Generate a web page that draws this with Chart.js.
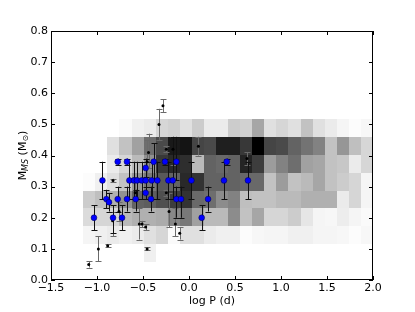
<!DOCTYPE html>
<html>
<head>
<meta charset="utf-8">
<script src="https://cdn.jsdelivr.net/npm/chart.js@4.4.0/dist/chart.umd.min.js"></script>
<style>
  html, body { margin: 0; padding: 0; background: #fff; }
  #wrap { width: 415px; height: 312px; }
</style>
</head>
<body>
<div id="wrap"><canvas id="chart" width="415" height="312"></canvas></div>
<script>
// --- DATA ---
// blue points (with black error bars)
const blueLogP = [-1.033, -0.941, -0.898, -0.87, -0.826, -0.775, -0.775, -0.728, -0.674, -0.674, -0.648, -0.598, -0.579, -0.565, -0.514, -0.471, -0.471, -0.471, -0.413, -0.405, -0.384, -0.344, -0.261, -0.224, -0.177, -0.137, -0.137, -0.087, 0.026, 0.138, 0.207, 0.38, 0.41, 0.641];
const blueMass = [0.20, 0.32, 0.26, 0.25, 0.20, 0.38, 0.26, 0.20, 0.38, 0.26, 0.32, 0.32, 0.26, 0.32, 0.32, 0.36, 0.32, 0.28, 0.26, 0.32, 0.38, 0.32, 0.38, 0.32, 0.32, 0.38, 0.26, 0.26, 0.32, 0.20, 0.26, 0.32, 0.38, 0.32];
const blueLo   = [0.16, 0.26, 0.23, 0.22, 0.15, 0.37, 0.22, 0.16, 0.37, 0.22, 0.26, 0.26, 0.22, 0.26, 0.26, 0.33, 0.26, 0.26, 0.22, 0.26, 0.32, 0.26, 0.37, 0.26, 0.26, 0.32, 0.20, 0.20, 0.26, 0.16, 0.22, 0.26, 0.37, 0.26];
const blueHi   = [0.24, 0.38, 0.29, 0.28, 0.24, 0.39, 0.30, 0.24, 0.39, 0.30, 0.38, 0.38, 0.29, 0.38, 0.38, 0.39, 0.38, 0.30, 0.30, 0.38, 0.44, 0.38, 0.39, 0.38, 0.46, 0.46, 0.30, 0.30, 0.38, 0.24, 0.30, 0.38, 0.39, 0.38];

// small black points (with grey error bars)
const blackLogP = [-1.09, -0.985, -0.884, -0.826, -0.83, -0.761, -0.585, -0.54, -0.51, -0.471, -0.455, -0.44, -0.455, -0.326, -0.283, -0.246, -0.246, -0.217, -0.174, -0.148, -0.101, 0.102, 0.63];
const blackMass = [0.05, 0.10, 0.11, 0.32, 0.19, 0.22, 0.28, 0.18, 0.18, 0.17, 0.10, 0.41, 0.38, 0.50, 0.56, 0.42, 0.28, 0.22, 0.42, 0.18, 0.15, 0.43, 0.39];
const blackLo   = [0.04, 0.06, 0.105, 0.315, 0.14, 0.19, 0.23, 0.13, 0.17, 0.16, 0.095, 0.36, 0.33, 0.45, 0.54, 0.41, 0.27, 0.17, 0.37, 0.14, 0.13, 0.40, 0.37];
const blackHi   = [0.06, 0.14, 0.115, 0.325, 0.22, 0.25, 0.33, 0.23, 0.19, 0.18, 0.105, 0.47, 0.45, 0.55, 0.58, 0.43, 0.29, 0.28, 0.46, 0.23, 0.17, 0.46, 0.41];

// 2D histogram (density 0..1), bin edges
const logPEdges = [-1.15, -1.019, -0.888, -0.756, -0.625, -0.494, -0.363, -0.231, -0.10, 0.031, 0.163, 0.294, 0.425, 0.556, 0.688, 0.819, 0.95, 1.081, 1.213, 1.344, 1.475, 1.606, 1.738, 1.869, 2.0];
const massEdges = [0.0575, 0.115, 0.1725, 0.23, 0.2875, 0.345, 0.4025, 0.46, 0.5175];
const histRow0 = [0, 0, 0, 0, 0, 0.06, 0, 0, 0, 0, 0, 0, 0, 0, 0, 0, 0, 0, 0, 0, 0, 0, 0, 0];
const histRow1 = [0.04, 0.06, 0.08, 0.06, 0.08, 0.12, 0.16, 0.02, 0.12, 0.12, 0.08, 0.06, 0.06, 0.01, 0.03, 0.04, 0.04, 0.06, 0.06, 0.04, 0.04, 0.03, 0.01, 0.03];
const histRow2 = [0.14, 0.16, 0.16, 0.27, 0.31, 0.31, 0.33, 0.47, 0.53, 0.37, 0.27, 0.27, 0.45, 0.24, 0.35, 0.16, 0.16, 0.20, 0.10, 0.04, 0.03, 0.07, 0.04, 0.02];
const histRow3 = [0.20, 0.25, 0.31, 0.43, 0.61, 0.63, 0.69, 0.76, 0.80, 0.59, 0.57, 0.45, 0.49, 0.25, 0.24, 0.24, 0.27, 0.27, 0.31, 0.31, 0.31, 0.08, 0.16, 0.04];
const histRow4 = [0.01, 0.06, 0.12, 0.24, 0.41, 0.53, 0.65, 0.61, 0.84, 0.80, 0.61, 0.61, 0.61, 0.59, 0.59, 0.24, 0.39, 0.24, 0.27, 0.35, 0.24, 0.20, 0.16, 0.04];
const histRow5 = [0, 0, 0.08, 0.16, 0.27, 0.43, 0.78, 0.84, 0.82, 0.27, 0.61, 0.59, 0.61, 0.86, 0.76, 0.39, 0.49, 0.57, 0.37, 0.35, 0.24, 0.22, 0.08, 0.16];
const histRow6 = [0, 0, 0.12, 0.24, 0.37, 0.57, 0.71, 0.90, 0.92, 0.73, 0.71, 0.88, 0.88, 0.78, 1.0, 0.73, 0.71, 0.61, 0.55, 0.49, 0.24, 0.41, 0.25, 0.16];
const histRow7 = [0, 0, 0, 0.02, 0.06, 0.08, 0.16, 0.18, 0.12, 0.20, 0.08, 0.08, 0.20, 0.18, 0.35, 0.12, 0.16, 0.12, 0.24, 0.12, 0.08, 0.04, 0.01, 0.03];
const histRows = [histRow0, histRow1, histRow2, histRow3, histRow4, histRow5, histRow6, histRow7];

const xTickLabels = ['\u22121.5', '\u22121.0', '\u22120.5', '0.0', '0.5', '1.0', '1.5', '2.0'];
const yTickLabels = ['0.0', '0.1', '0.2', '0.3', '0.4', '0.5', '0.6', '0.7', '0.8'];

const FONT = 'DejaVu Sans';

// --- DRAWING HELPERS ---
function drawErrBars(ctx, x, y, xs, lo, hi, color) {
    ctx.strokeStyle = color;
    ctx.lineWidth = 1;
    xs.forEach((v, i) => {
        const px = Math.round(x.getPixelForValue(v)) + 0.5;
        const p0 = y.getPixelForValue(lo[i]), p1 = y.getPixelForValue(hi[i]);
        ctx.beginPath();
        ctx.moveTo(px, p0); ctx.lineTo(px, p1);
        ctx.moveTo(px - 3, Math.round(p0) + 0.5); ctx.lineTo(px + 3, Math.round(p0) + 0.5);
        ctx.moveTo(px - 3, Math.round(p1) + 0.5); ctx.lineTo(px + 3, Math.round(p1) + 0.5);
        ctx.stroke();
    });
}

const histPlugin = {
    id: 'hist',
    beforeDatasetsDraw(chart) {
        const { ctx, chartArea: a, scales: { x, y } } = chart;
        ctx.save();
        ctx.beginPath(); ctx.rect(a.left, a.top, a.right - a.left, a.bottom - a.top); ctx.clip();
        histRows.forEach((row, j) => row.forEach((d, i) => {
            if (d <= 0) return;
            const x0 = Math.round(x.getPixelForValue(logPEdges[i])), x1 = Math.round(x.getPixelForValue(logPEdges[i + 1]));
            const y0 = Math.round(y.getPixelForValue(massEdges[j + 1])), y1 = Math.round(y.getPixelForValue(massEdges[j]));
            const g = Math.round(255 * (1 - d));
            ctx.fillStyle = `rgb(${g},${g},${g})`;
            ctx.fillRect(x0, y0, x1 - x0, y1 - y0);
        }));
        drawErrBars(ctx, x, y, blackLogP, blackLo, blackHi, '#6a6a6a');
        drawErrBars(ctx, x, y, blueLogP, blueLo, blueHi, '#111');
        ctx.restore();
    },
    afterDraw(chart) {
        const { ctx, chartArea: a, scales: { x, y } } = chart;
        ctx.save();
        ctx.strokeStyle = '#000';
        ctx.lineWidth = 1;
        ctx.strokeRect(a.left + 0.5, a.top + 0.5, a.right - a.left - 1, a.bottom - a.top - 1);
        ctx.beginPath();
        x.ticks.forEach(t => {
            const px = Math.round(x.getPixelForValue(t.value)) + 0.5;
            ctx.moveTo(px, a.bottom); ctx.lineTo(px, a.bottom - 4);
            ctx.moveTo(px, a.top); ctx.lineTo(px, a.top + 4);
        });
        y.ticks.forEach(t => {
            const py = Math.round(y.getPixelForValue(t.value)) + 0.5;
            ctx.moveTo(a.left, py); ctx.lineTo(a.left + 4, py);
            ctx.moveTo(a.right, py); ctx.lineTo(a.right - 4, py);
        });
        ctx.stroke();
        // y title with subscripts: M_MS (M_sun)
        const parts = [
            { t: 'M', f: `11px "${FONT}"`, dy: 0 },
            { t: 'MS', f: `italic 8px "${FONT}"`, dy: 3 },
            { t: ' (M', f: `11px "${FONT}"`, dy: 0 },
            { t: '\u2299', f: `8px "${FONT}"`, dy: 3 },
            { t: ')', f: `11px "${FONT}"`, dy: 0 }
        ];
        let w = 0;
        parts.forEach(p => { ctx.font = p.f; p.w = ctx.measureText(p.t).width; w += p.w; });
        ctx.translate(23, (a.top + a.bottom) / 2);
        ctx.rotate(-Math.PI / 2);
        ctx.fillStyle = '#000';
        ctx.textBaseline = 'middle';
        let cx = -w / 2;
        parts.forEach(p => { ctx.font = p.f; ctx.fillText(p.t, cx, p.dy); cx += p.w; });
        ctx.restore();
    }
};

new Chart(document.getElementById('chart'), {
    type: 'scatter',
    data: {
        datasets: [
            {
                label: 'blue',
                data: blueLogP.map((v, i) => ({ x: v, y: blueMass[i] })),
                pointRadius: 2.9,
                pointBackgroundColor: '#0000ff',
                pointBorderColor: '#000040',
                pointBorderWidth: 0.5
            },
            {
                label: 'black',
                data: blackLogP.map((v, i) => ({ x: v, y: blackMass[i] })),
                pointRadius: 1.5,
                pointBackgroundColor: '#000',
                pointBorderColor: '#000',
                pointBorderWidth: 0
            }
        ]
    },
    options: {
        responsive: false,
        animation: false,
        devicePixelRatio: 1,
        layout: { padding: { left: 0, right: 42, top: 31, bottom: 0 } },
        plugins: { legend: { display: false }, tooltip: { enabled: false } },
        scales: {
            x: {
                type: 'linear', min: -1.5, max: 2.0,
                afterFit: s => { s.height = 32; },
                grid: { display: false, drawTicks: false },
                border: { display: false },
                ticks: {
                    stepSize: 0.5, padding: 2, color: '#000', maxRotation: 0,
                    font: { family: FONT, size: 11 },
                    callback: (v) => xTickLabels[Math.round((v + 1.5) / 0.5)]
                },
                title: { display: true, text: 'log P (d)', color: '#000', font: { family: FONT, size: 11 }, padding: { top: 0, bottom: 4 } }
            },
            y: {
                type: 'linear', min: 0, max: 0.8,
                afterFit: s => { s.width = 51; },
                grid: { display: false, drawTicks: false },
                border: { display: false },
                ticks: {
                    stepSize: 0.1, padding: 3, color: '#000',
                    font: { family: FONT, size: 11 },
                    callback: (v) => yTickLabels[Math.round(v / 0.1)]
                }
            }
        }
    },
    plugins: [histPlugin]
});
</script>
</body>
</html>
